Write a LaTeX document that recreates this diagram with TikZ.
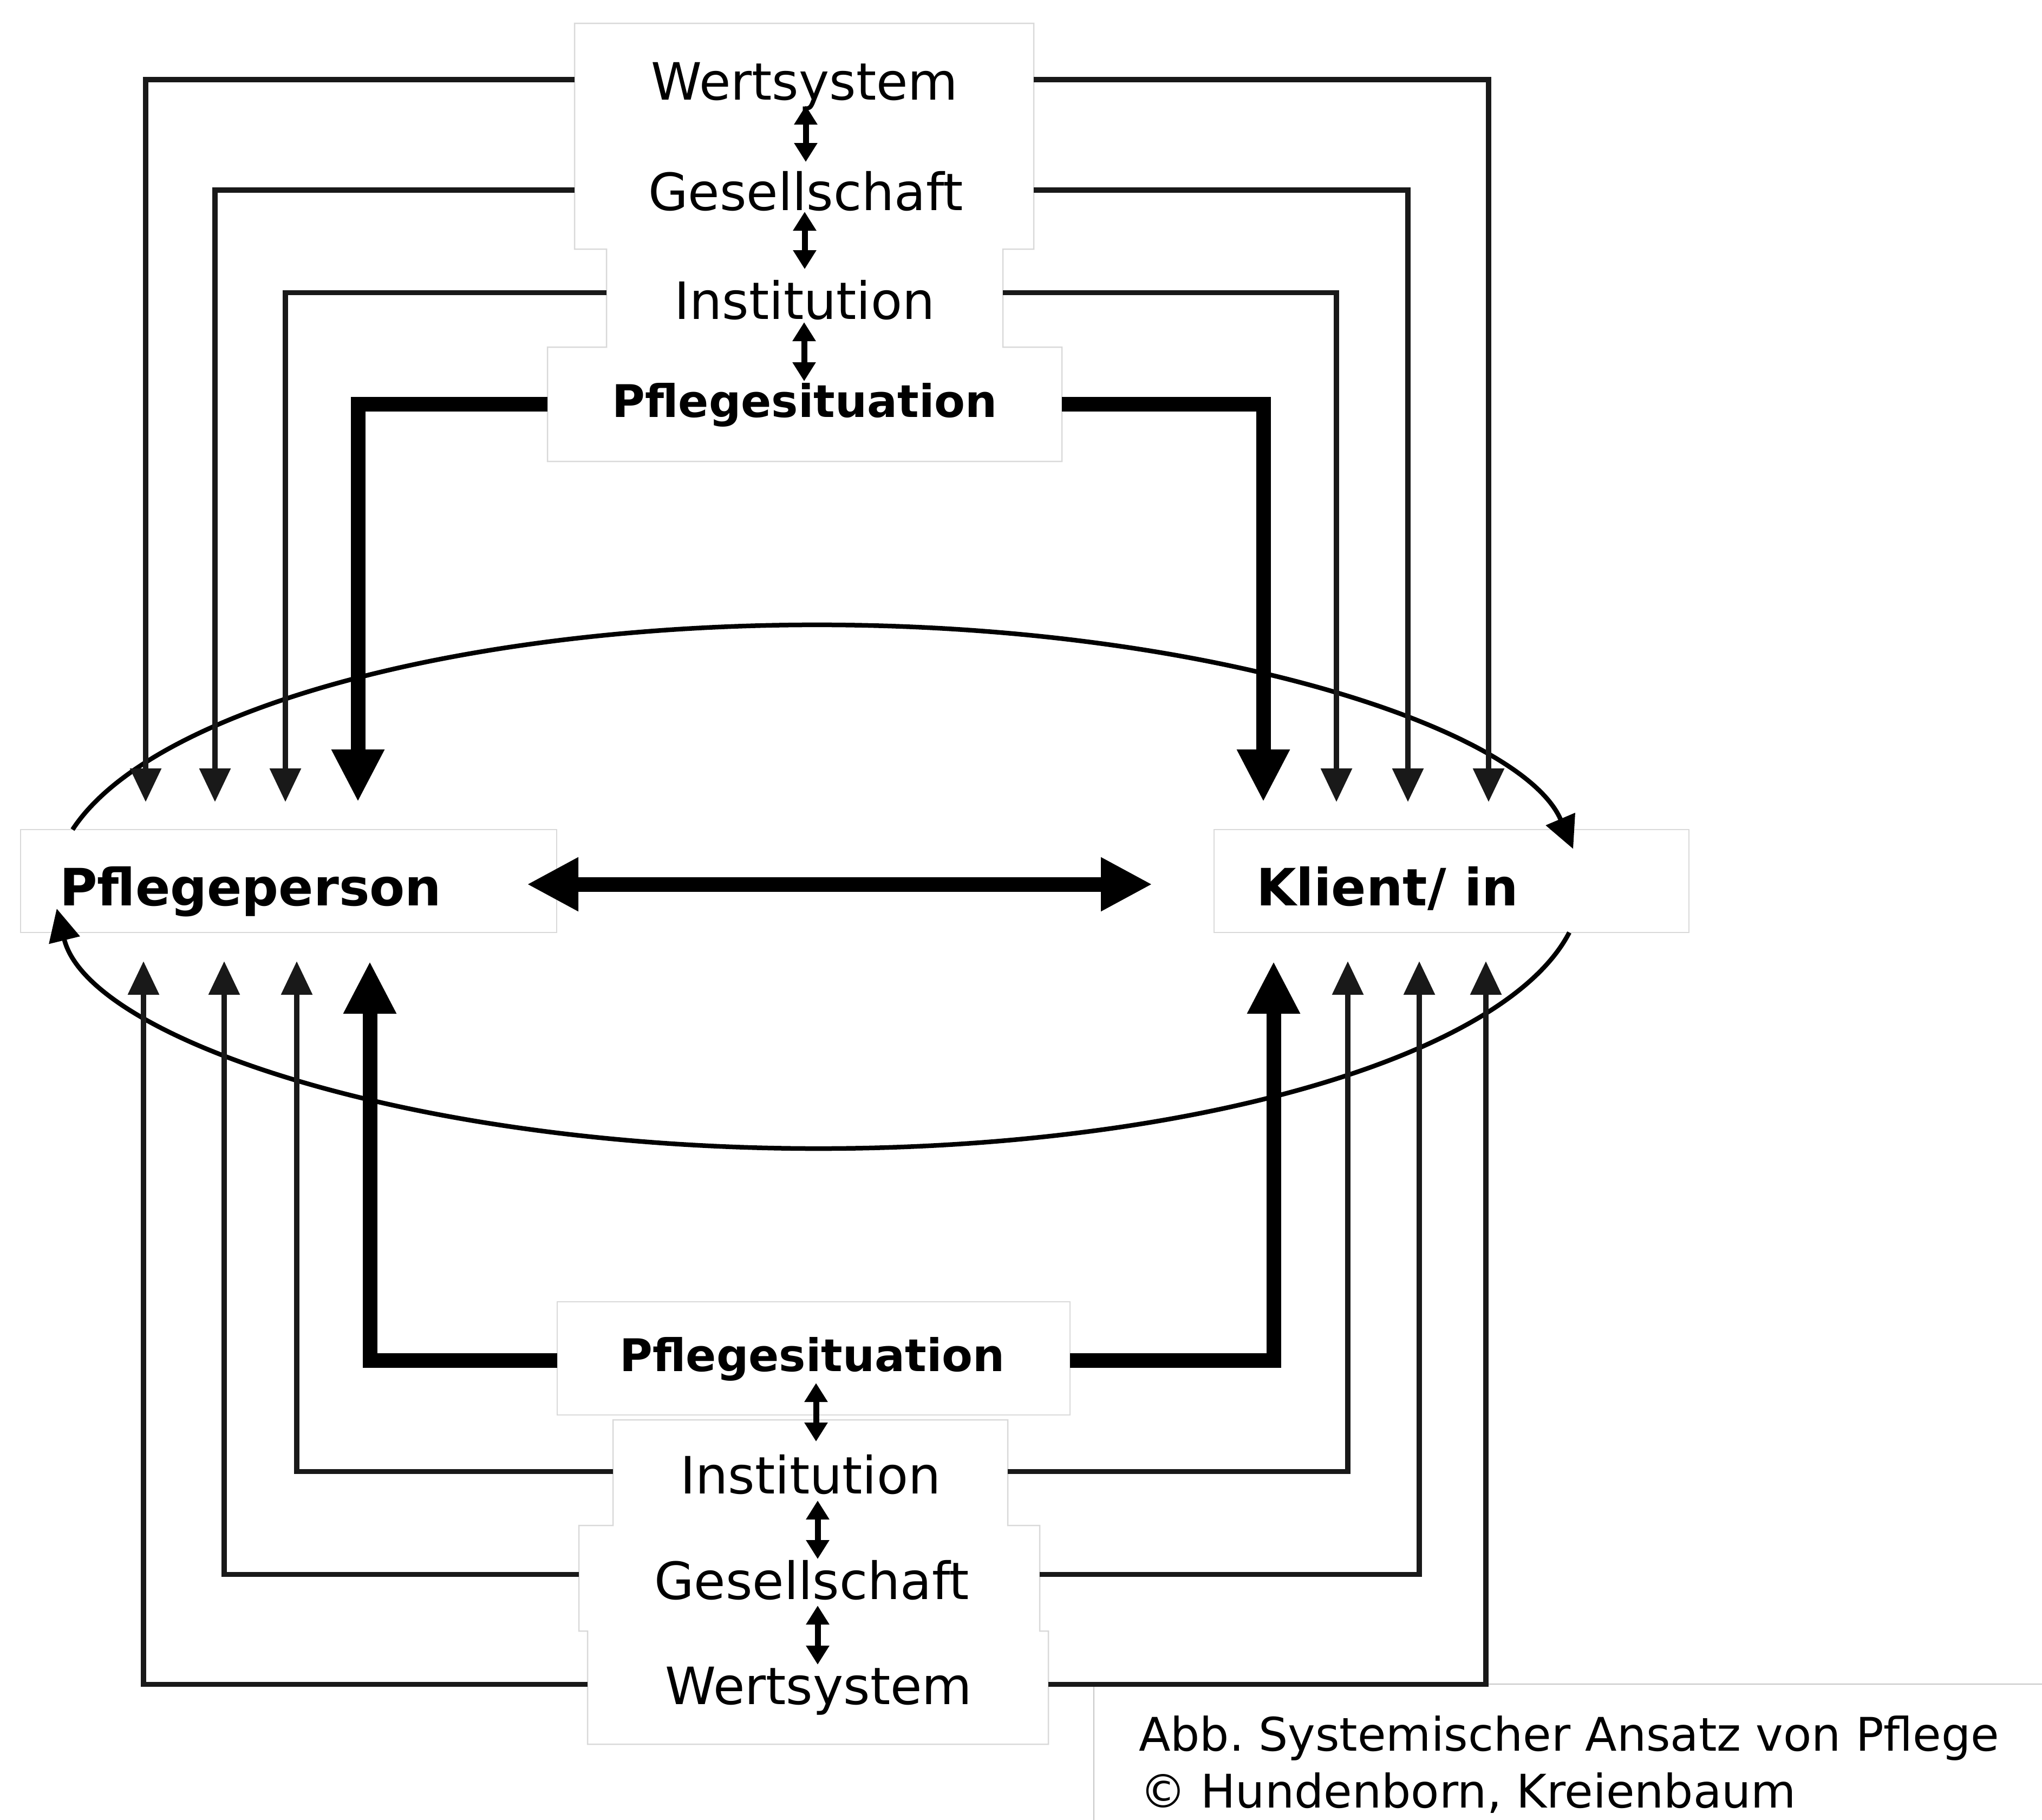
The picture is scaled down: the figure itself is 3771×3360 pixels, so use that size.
\documentclass[tikz,border=0pt]{standalone}
\usepackage{fontspec}
\setmainfont{DejaVu Sans}
\usetikzlibrary{arrows.meta,calc}
\frenchspacing
\begin{document}
\begin{tikzpicture}[x=0.2pt,y=-0.2pt,
 boxn/.style={inner sep=0pt,outer sep=0pt},
 outl/.style={draw=gray!30,line width=0.5pt,fill=white},
 lbl/.style={inner sep=0pt,outer sep=0pt,font={\fontsize{19}{22}\selectfont}},
 blbl/.style={inner sep=0pt,outer sep=0pt,font={\fontsize{19}{22}\selectfont\bfseries}},
 slbl/.style={inner sep=0pt,outer sep=0pt,font={\fontsize{16.6}{20}\selectfont\bfseries}},
 clbl/.style={inner sep=0pt,outer sep=0pt,font={\fontsize{17.1}{20}\selectfont}},
 thinarr/.style={line width=1.9pt,draw=black!90,line join=miter,-{Triangle[length=12.4pt,width=11.2pt]}},
 thickarr/.style={line width=5.4pt,line join=miter,-{Triangle[length=19.4pt,width=18.2pt]}},
 dblarr/.style={line width=5.4pt,{Triangle[length=19pt,width=18.6pt]}-{Triangle[length=19pt,width=18.6pt]}},
 smallarr/.style={line width=2.2pt,{Triangle[length=7pt,width=8.2pt]}-{Triangle[length=7pt,width=8.2pt]}},
 ellarr/.style={line width=1.7pt,-{Triangle[length=12pt,width=11.4pt]}}
]
\useasboundingbox (0,0) rectangle (3771,3360);
\fill[white] (0,0) rectangle (3771,3360);

% box nodes
\node[boxn,minimum width=169.6pt,minimum height=83.4pt] (tWG) at (1485,251.5) {};
\node[boxn,minimum width=146.4pt,minimum height=36.2pt] (tI) at (1486,550.5) {};
\node[boxn,minimum width=190pt,minimum height=42.2pt] (tP) at (1486,746.5) {};
\node[boxn,minimum width=198pt,minimum height=38pt] (pp) at (533,1627) {};
\node[boxn,minimum width=175.4pt,minimum height=38pt] (kl) at (2680.5,1627) {};
\node[boxn,minimum width=189.4pt,minimum height=41.8pt] (bP) at (1502.5,2508.5) {};
\node[boxn,minimum width=145.8pt,minimum height=39pt] (bI) at (1496.5,2719.5) {};
\node[boxn,minimum width=170.2pt,minimum height=39pt] (bG) at (1494.5,2914.5) {};
\node[boxn,minimum width=170.2pt,minimum height=41.8pt] (bW) at (1510.5,3116.5) {};
\node[boxn,minimum width=352.2pt,minimum height=52pt] (cap) at (2900.5,3240) {};

% outlines
\path[outl] (tWG.north west) -- (tWG.north east) -- (tWG.south east) -- (tI.north east)
  -- (tI.south east) -- (tP.north east) -- (tP.south east) -- (tP.south west)
  -- (tP.north west) -- (tI.south west) -- (tI.north west) -- (tWG.south west) -- cycle;
\path[outl] (pp.north west) rectangle (pp.south east);
\path[outl] (kl.north west) rectangle (kl.south east);
\path[outl] (bP.north west) rectangle (bP.south east);
\path[outl] (bI.north west) -- (bI.north east) -- (bI.south east) -- (bG.north east)
  -- (bG.south east) -- (bW.north east) -- (bW.south east) -- (bW.south west)
  -- (bW.north west) -- (bG.south west) -- (bG.north west) -- (bI.south west) -- cycle;
\path[outl,draw=gray!45] (cap.north west) rectangle (cap.south east);

% texts
\node[lbl,anchor=base] (tWt) at (1486,184) {Wertsystem};
\node[lbl,anchor=base] (tGt) at (1488,388) {Gesellschaft};
\node[lbl,anchor=base] (tIt) at (1486,589) {Institution};
\node[slbl,anchor=base] (tPt) at (1486,770) {Pflegesituation};
\node[blbl,anchor=base west] (ppt) at (110,1672) {Pflegeperson};
\node[blbl,anchor=base west] (klt) at (2320,1672) {Klient/ in};
\node[slbl,anchor=base] (bPt) at (1500,2532) {Pflegesituation};
\node[lbl,anchor=base] (bIt) at (1497,2758) {Institution};
\node[lbl,anchor=base] (bGt) at (1499,2953) {Gesellschaft};
\node[lbl,anchor=base] (bWt) at (1512,3147) {Wertsystem};
\node[clbl,anchor=base west] (c1) at (2103,3233) {Abb. Systemischer Ansatz von Pflege};
\node[clbl,anchor=base west] (c2) at (2105,3338) {© Hundenborn, Kreienbaum};

% arrow tip coordinates
\coordinate (pt1) at (269,1481);
\coordinate (pt2) at (397,1481);
\coordinate (pt3) at (527,1481);
\coordinate (pt4) at (661,1481);
\coordinate (kt1) at (2333,1481);
\coordinate (kt2) at (2468,1481);
\coordinate (kt3) at (2600,1481);
\coordinate (kt4) at (2749,1481);
\coordinate (pb1) at (265,1775);
\coordinate (pb2) at (414,1775);
\coordinate (pb3) at (548,1775);
\coordinate (pb4) at (683,1775);
\coordinate (kb1) at (2352,1775);
\coordinate (kb2) at (2489,1775);
\coordinate (kb3) at (2621,1775);
\coordinate (kb4) at (2744,1775);

% ellipse arcs
\draw[ellarr] ($(pp.north west)+(96,0)$) arc[start angle=192.6,end angle=351.7,x radius=1410,y radius=483.5];
\draw[ellarr] ($(kl.south east)+(-221,0)$) arc[start angle=10.07,end angle=175.2,x radius=1410,y radius=483.5];

% top connectors
\draw[thinarr] ($(tWG.north west)+(0,104)$) -| (pt1);
\draw[thinarr] ($(tWG.north west)+(0,308)$) -| (pt2);
\draw[thinarr] ($(tI.west)+(0,-10)$) -| (pt3);
\draw[thickarr] (tP.west) -| (pt4);
\draw[thinarr] ($(tWG.north east)+(0,104)$) -| (kt4);
\draw[thinarr] ($(tWG.north east)+(0,308)$) -| (kt3);
\draw[thinarr] ($(tI.east)+(0,-10)$) -| (kt2);
\draw[thickarr] (tP.east) -| (kt1);

% bottom connectors
\draw[thickarr] ($(bP.west)+(0,4)$) -| (pb4);
\draw[thinarr] ($(bI.west)+(0,-2)$) -| (pb3);
\draw[thinarr] ($(bG.west)+(0,-7)$) -| (pb2);
\draw[thinarr] ($(bW.west)+(0,-6)$) -| (pb1);
\draw[thickarr] ($(bP.east)+(0,4)$) -| (kb1);
\draw[thinarr] ($(bI.east)+(0,-2)$) -| (kb2);
\draw[thinarr] ($(bG.east)+(0,-7)$) -| (kb3);
\draw[thinarr] ($(bW.east)+(0,-6)$) -| (kb4);

% middle
\draw[dblarr] ($(pp.east)+(-55,6)$) -- ($(kl.west)+(-114,6)$);

% small double arrows
\draw[smallarr] ($(tWt.base)+(2,11)$) -- ($(tGt.base)+(0,-89)$);
\draw[smallarr] ($(tGt.base)+(-2,3)$) -- ($(tIt.base)+(0,-92)$);
\draw[smallarr] ($(tIt.base)+(-1,6)$) -- ($(tPt.base)+(-1,-66)$);
\draw[smallarr] ($(bPt.base)+(7,22)$) -- ($(bIt.base)+(10,-96)$);
\draw[smallarr] ($(bIt.base)+(13,13)$) -- ($(bGt.base)+(11,-74)$);
\draw[smallarr] ($(bGt.base)+(11,12)$) -- ($(bWt.base)+(-2,-73)$);
\end{tikzpicture}
\end{document}
